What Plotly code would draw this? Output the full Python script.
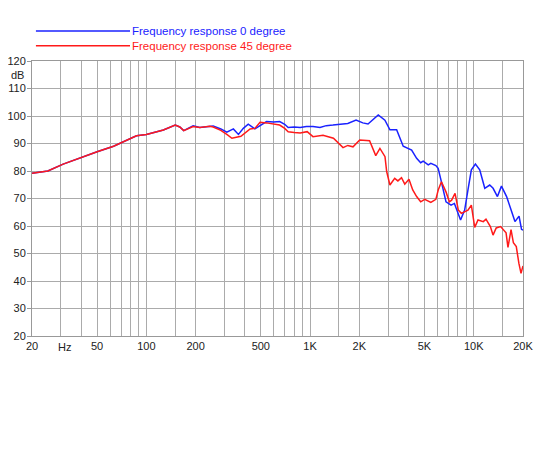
import plotly.graph_objects as go

# 0 degree measurement (blue)
freq_0 = [20, 22, 25, 31, 40, 50, 63, 80, 87, 100, 127, 150, 160, 169, 180, 193,
          212, 244, 256, 285, 310, 340, 365, 391, 419, 460, 500, 542, 600, 652,
          700, 735, 800, 870, 950, 1042, 1150, 1255, 1380, 1510, 1700, 1910,
          2100, 2260, 2450, 2610, 2866, 3076, 3380, 3708, 4174, 4478, 4740,
          4912, 5272, 5470, 5870, 6060, 6310, 6770, 7270, 7620, 8310, 8800,
          9220, 9670, 10240, 10880, 11680, 12520, 13130, 13960, 14770, 15880,
          17060, 17860, 18920, 19590, 20000]
spl_0 = [79.2, 79.5, 80.0, 82.5, 85.0, 87.0, 89.0, 91.9, 92.8, 93.3, 94.9, 96.7,
         96.0, 94.7, 95.5, 96.4, 95.8, 96.3, 96.4, 95.3, 94.1, 95.3, 93.3,
         95.5, 97.0, 95.3, 96.8, 98.0, 97.8, 98.0, 97.0, 95.8, 96.0, 95.8,
         96.2, 96.2, 95.8, 96.5, 96.7, 97.0, 97.3, 98.5, 97.5, 97.1, 99.0,
         100.4, 98.5, 95.0, 95.0, 89.0, 87.6, 84.6, 83.0, 83.6, 82.2, 82.8,
         82.0, 81.0, 76.7, 68.8, 67.6, 68.2, 62.2, 65.8, 73.1, 80.4, 82.5,
         80.4, 73.7, 74.9, 73.7, 70.7, 74.5, 70.7, 65.2, 61.6, 63.6, 58.8, 58.5]

# 45 degree measurement (red)
freq_45 = [20, 22, 25, 31, 40, 50, 63, 80, 87, 100, 127, 150, 160, 169, 180, 193,
           212, 244, 256, 285, 310, 333, 378, 430, 460, 495, 542, 600, 652,
           700, 735, 800, 870, 960, 1042, 1200, 1390, 1590, 1700, 1830, 2010,
           2310, 2520, 2672, 2870, 2938, 3076, 3290, 3440, 3620, 3790, 4020,
           4240, 4478, 4740, 5020, 5470, 5870, 6068, 6350, 6770, 7100, 7328,
           7690, 8050, 8400, 9220, 9670, 10140, 10620, 11440, 11880, 12640,
           13120, 13720, 14590, 15760, 16190, 16900, 17470, 18200, 18880,
           19450, 20000]
spl_45 = [79.2, 79.5, 80.0, 82.5, 85.0, 87.0, 89.0, 91.9, 92.8, 93.3, 94.9, 96.7,
          96.0, 94.7, 95.5, 96.2, 95.8, 96.3, 96.0, 94.8, 93.3, 91.9, 92.6,
          95.3, 95.5, 97.7, 97.5, 97.2, 96.7, 95.5, 94.3, 94.0, 93.8, 94.3,
          92.5, 93.0, 91.9, 88.5, 89.3, 88.8, 91.3, 91.0, 85.6, 88.2, 85.2,
          79.8, 74.9, 77.3, 76.4, 77.6, 75.2, 77.0, 73.1, 70.7, 68.8, 69.7,
          68.6, 69.7, 73.1, 76.1, 72.4, 68.8, 69.4, 71.9, 65.8, 64.6, 65.8,
          67.6, 59.5, 62.2, 61.6, 62.5, 59.8, 56.7, 59.3, 59.8, 57.5, 52.2,
          58.7, 53.9, 52.5, 46.4, 42.8, 45.5]

grid_freqs = [20, 30, 40, 50, 60, 70, 80, 90, 100, 150, 200, 300, 400, 500, 600,
              700, 800, 900, 1000, 1500, 2000, 3000, 4000, 5000, 6000, 7000,
              8000, 9000, 10000, 15000, 20000]
label_map = {20: "20", 50: "50", 100: "100", 200: "200", 500: "500",
             1000: "1K", 2000: "2K", 5000: "5K", 10000: "10K", 20000: "20K"}
db_ticks = [20, 30, 40, 50, 60, 70, 80, 90, 100, 110, 120]

blue = "#1a22ff"
red = "#ff1a1a"
font = "Liberation Sans, Arial, sans-serif"

fig = go.Figure()
fig.add_trace(go.Scatter(x=freq_0, y=spl_0, mode="lines",
                         line=dict(color=blue, width=1.5), showlegend=False))
fig.add_trace(go.Scatter(x=freq_45, y=spl_45, mode="lines",
                         line=dict(color=red, width=1.5), showlegend=False))

# legend drawn by hand (long line + coloured text)
legend_items = [("Frequency response 0 degree", blue, 1.109),
                ("Frequency response 45 degree", red, 1.0556)]
for txt, col, yy in legend_items:
    fig.add_shape(type="line", xref="paper", yref="paper",
                  x0=0.008, x1=0.1996, y0=yy, y1=yy,
                  line=dict(color=col, width=1.5))
    fig.add_annotation(text=txt, xref="paper", yref="paper", x=0.199, y=yy,
                       xanchor="left", yanchor="middle", showarrow=False,
                       font=dict(color=col, size=11.5, family=font))

fig.add_annotation(text="Hz", xref="x", yref="paper", x=1.498, y=-0.012,
                   xanchor="center", yanchor="top", showarrow=False,
                   font=dict(size=11, color="#222", family=font))
fig.add_annotation(text="dB", xref="paper", yref="y", x=-0.012, y=115,
                   xanchor="right", yanchor="middle", showarrow=False,
                   font=dict(size=11, color="#222", family=font))

fig.update_xaxes(type="log", range=[1.30103, 4.30103],
                 tickvals=grid_freqs,
                 ticktext=[label_map.get(f, "") for f in grid_freqs],
                 showgrid=True, gridcolor="#ababab", gridwidth=1,
                 showline=True, linecolor="#999999", mirror=True,
                 ticks="", tickfont=dict(size=11, color="#222", family=font),
                 zeroline=False, automargin=False)
fig.update_yaxes(range=[20, 120], tickvals=db_ticks,
                 showgrid=True, gridcolor="#ababab", gridwidth=1,
                 showline=True, linecolor="#999999", mirror=True,
                 ticks="outside", ticklen=4, tickcolor="#999999",
                 ticklabelstandoff=-1,
                 tickfont=dict(size=11, color="#222", family=font),
                 zeroline=False, automargin=False)

# page body has an 8px margin, so the figure is shrunk by that amount
fig.update_layout(width=542, height=442,
                  margin=dict(l=24, r=27, t=53, b=114),
                  plot_bgcolor="white", paper_bgcolor="white",
                  font=dict(family=font))

fig.write_html("out.html")
